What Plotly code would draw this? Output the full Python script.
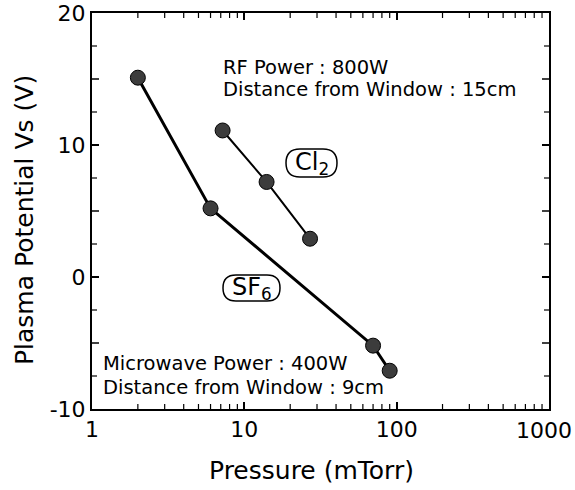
import plotly.graph_objects as go

# ---- data ----
sf6_pressure = [2, 6, 70, 90]
sf6_vs = [15.1, 5.2, -5.2, -7.1]
cl2_pressure = [7.2, 14, 27]
cl2_vs = [11.1, 7.2, 2.9]

x_tickvals = [1, 10, 100]
x_ticktext = ["1", "10", "100"]
x_last_label = "1000"
x_minor = [m * d for d in (1, 10, 100) for m in range(2, 10)]
y_tickvals = [-10, 0, 10, 20]
y_ticktext = ["-10", "0", "10", "20"]
y_mid = [-5, 5, 15]
y_minor = [-7.5, -2.5, 2.5, 7.5, 12.5, 17.5]

FONT = "DejaVu Sans"
W, H = 575, 490
L, R, T, B = 92, 549, 13, 409  # plot area in px
PW, PH = R - L, B - T


def px(xp):
    return (xp - L) / PW


def py(yp):
    return (B - yp) / PH


def pill(x0, y0, x1, y1):
    r = (y1 - y0) / 2.0

    def P(x, y):
        return f"{px(x):.5f},{py(y):.5f}"
    return (f"M {P(x0 + r, y0)} L {P(x1 - r, y0)} "
            f"Q {P(x1, y0)} {P(x1, y0 + r)} Q {P(x1, y1)} {P(x1 - r, y1)} "
            f"L {P(x0 + r, y1)} Q {P(x0, y1)} {P(x0, y0 + r)} "
            f"Q {P(x0, y0)} {P(x0 + r, y0)} Z")


fig = go.Figure()
fig.add_trace(go.Scatter(
    x=sf6_pressure, y=sf6_vs, mode="lines+markers",
    line=dict(color="black", width=3),
    marker=dict(size=15, color="#3c3c3c", line=dict(color="black", width=1)),
    showlegend=False))
fig.add_trace(go.Scatter(
    x=cl2_pressure, y=cl2_vs, mode="lines+markers",
    line=dict(color="black", width=2),
    marker=dict(size=15, color="#3c3c3c", line=dict(color="black", width=1)),
    showlegend=False))

line_common = dict(showline=True, linecolor="black", linewidth=2, mirror="allticks",
                   showgrid=False, zeroline=False, tickcolor="black", automargin=False,
                   ticks="inside", ticklen=7, tickwidth=1.5)
tickfont = dict(family=FONT, size=22, color="black")

fig.update_layout(
    xaxis=dict(type="log", range=[0, 3], tickmode="array", tickvals=x_tickvals,
               ticktext=x_ticktext, tickfont=tickfont, **line_common),
    yaxis=dict(range=[-10, 20], tickmode="array", tickvals=y_tickvals,
               ticktext=y_ticktext, tickfont=tickfont, **line_common),
)

# secondary tick marks (drawn as short lines on all four sides)
shapes = []
tick_line = dict(color="black", width=1.2)
for v in x_minor:
    ln = 5 / PH
    shapes.append(dict(type="line", xref="x", yref="paper", x0=v, x1=v, y0=0, y1=ln,
                       line=tick_line, layer="above"))
    shapes.append(dict(type="line", xref="x", yref="paper", x0=v, x1=v, y0=1, y1=1 - ln,
                       line=tick_line, layer="above"))
for vals, ln_px, w in ((y_mid, 7, 1.5), (y_minor, 5, 1.2)):
    for v in vals:
        ln = ln_px / PW
        shapes.append(dict(type="line", xref="paper", yref="y", x0=0, x1=ln, y0=v, y1=v,
                           line=dict(color="black", width=w), layer="above"))
        shapes.append(dict(type="line", xref="paper", yref="y", x0=1, x1=1 - ln, y0=v, y1=v,
                           line=dict(color="black", width=w), layer="above"))

shapes += [
    dict(type="path", xref="paper", yref="paper", path=pill(286, 149, 337, 177),
         line=dict(color="black", width=1.5)),
    dict(type="path", xref="paper", yref="paper", path=pill(223, 275, 280, 301),
         line=dict(color="black", width=1.5)),
]

ann_font = dict(family=FONT, size=19.5, color="black")
lines = [
    ("RF Power : 800W", 221, 68),
    ("Distance from Window : 15cm", 221, 90),
    ("Microwave Power : 400W", 101, 363),
    ("Distance from Window : 9cm", 101, 387),
]
anns = []
for text, xx, yy in lines:
    anns.append(dict(text=text, x=px(xx), y=py(yy), xref="paper", yref="paper",
                     xanchor="left", yanchor="middle", showarrow=False, font=ann_font))

# last x tick label, kept inside the page edge
anns.append(dict(text=x_last_label, x=px(573), y=py(430), xref="paper", yref="paper",
                 xanchor="right", yanchor="middle", showarrow=False, borderpad=0,
                 font=tickfont))

# gas labels
anns.append(dict(text="Cl<sub>2</sub>", x=px(311.5), y=py(163), xref="paper", yref="paper",
                 xanchor="center", yanchor="middle", showarrow=False,
                 font=dict(family=FONT, size=24, color="black")))
anns.append(dict(text="SF<sub>6</sub>", x=px(251.5), y=py(288), xref="paper", yref="paper",
                 xanchor="center", yanchor="middle", showarrow=False,
                 font=dict(family=FONT, size=24, color="black")))

# axis titles
anns.append(dict(text="Pressure (mTorr)", x=px(311), y=py(470), xref="paper",
                 yref="paper", xanchor="center", yanchor="middle", showarrow=False,
                 font=dict(family=FONT, size=25, color="black")))
anns.append(dict(text="Plasma Potential Vs (V)", x=px(24), y=py(220), xref="paper",
                 yref="paper", xanchor="center", yanchor="middle", showarrow=False,
                 textangle=-90, font=dict(family=FONT, size=25, color="black")))

fig.update_layout(
    width=W, height=H,
    margin=dict(l=L, r=W - R, t=T, b=H - B, autoexpand=False),
    paper_bgcolor="white", plot_bgcolor="white",
    annotations=anns, shapes=shapes,
    font=dict(family=FONT, color="black"),
)

fig.write_html("out.html")
